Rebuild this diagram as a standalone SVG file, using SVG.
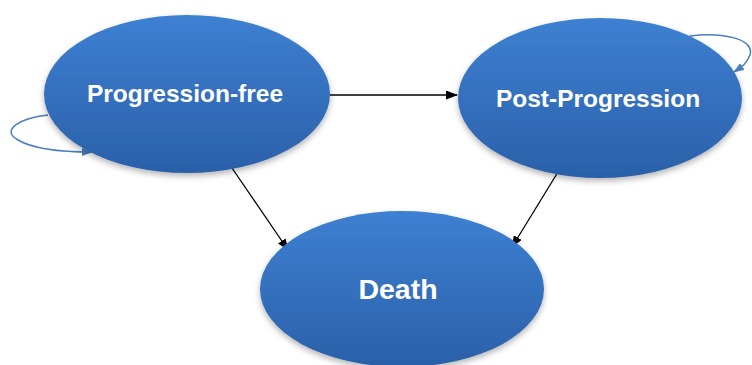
<svg xmlns="http://www.w3.org/2000/svg" width="752" height="365" viewBox="0 0 752 365">
<defs>
<linearGradient id="g" x1="0" y1="0" x2="0" y2="1">
<stop offset="0" stop-color="#3d80d2"/>
<stop offset="1" stop-color="#2b60a9"/>
</linearGradient>
<filter id="sh" x="-10%" y="-10%" width="120%" height="125%">
<feGaussianBlur in="SourceAlpha" stdDeviation="3"/>
<feOffset dx="0" dy="3"/>
<feComponentTransfer><feFuncA type="linear" slope="0.3"/></feComponentTransfer>
<feMerge><feMergeNode/><feMergeNode in="SourceGraphic"/></feMerge>
</filter>
<marker id="ab" markerWidth="12" markerHeight="9" refX="11" refY="4.5" orient="auto" markerUnits="userSpaceOnUse">
<path d="M0,0 L12,4.5 L0,9 z" fill="#000"/>
</marker>
<marker id="al" markerWidth="11" markerHeight="8" refX="10" refY="4" orient="auto" markerUnits="userSpaceOnUse">
<path d="M0,0 L11,4 L0,8 z" fill="#4a7ebf"/>
</marker>
</defs>
<style>
.node{fill:url(#g);filter:url(#sh)}
.lbl{font-family:"Liberation Sans",Arial,sans-serif;font-weight:bold;fill:#fff;text-anchor:middle}
.c{stroke:#000;stroke-width:1.3;fill:none;marker-end:url(#ab)}
.loop{stroke:#4a7ebf;stroke-width:1.5;fill:none;marker-end:url(#al)}
</style>
<g id="connectors">
<path class="loop" d="M48,115 C20,118 0,130 18,140 C35,150 70,152 92,152"/>
<path class="loop" d="M690,36 C720,32 755,38 750,55 C746,65 740,68 734,72"/>
<line class="c" x1="330" y1="95" x2="457" y2="95"/>
<line class="c" x1="232" y1="168" x2="288" y2="250"/>
<line class="c" x1="558" y1="172" x2="512" y2="247"/>
</g>
<g id="progression-free">
<ellipse class="node" cx="187" cy="94" rx="143" ry="79"/>
<text class="lbl" x="185" y="102" font-size="24.5">Progression-free</text>
</g>
<g id="post-progression">
<ellipse class="node" cx="600" cy="98" rx="142" ry="80"/>
<text class="lbl" x="598" y="107" font-size="24.5">Post-Progression</text>
</g>
<g id="death">
<ellipse class="node" cx="402" cy="289" rx="142" ry="78"/>
<text class="lbl" x="398" y="299" font-size="28.5">Death</text>
</g>
</svg>
